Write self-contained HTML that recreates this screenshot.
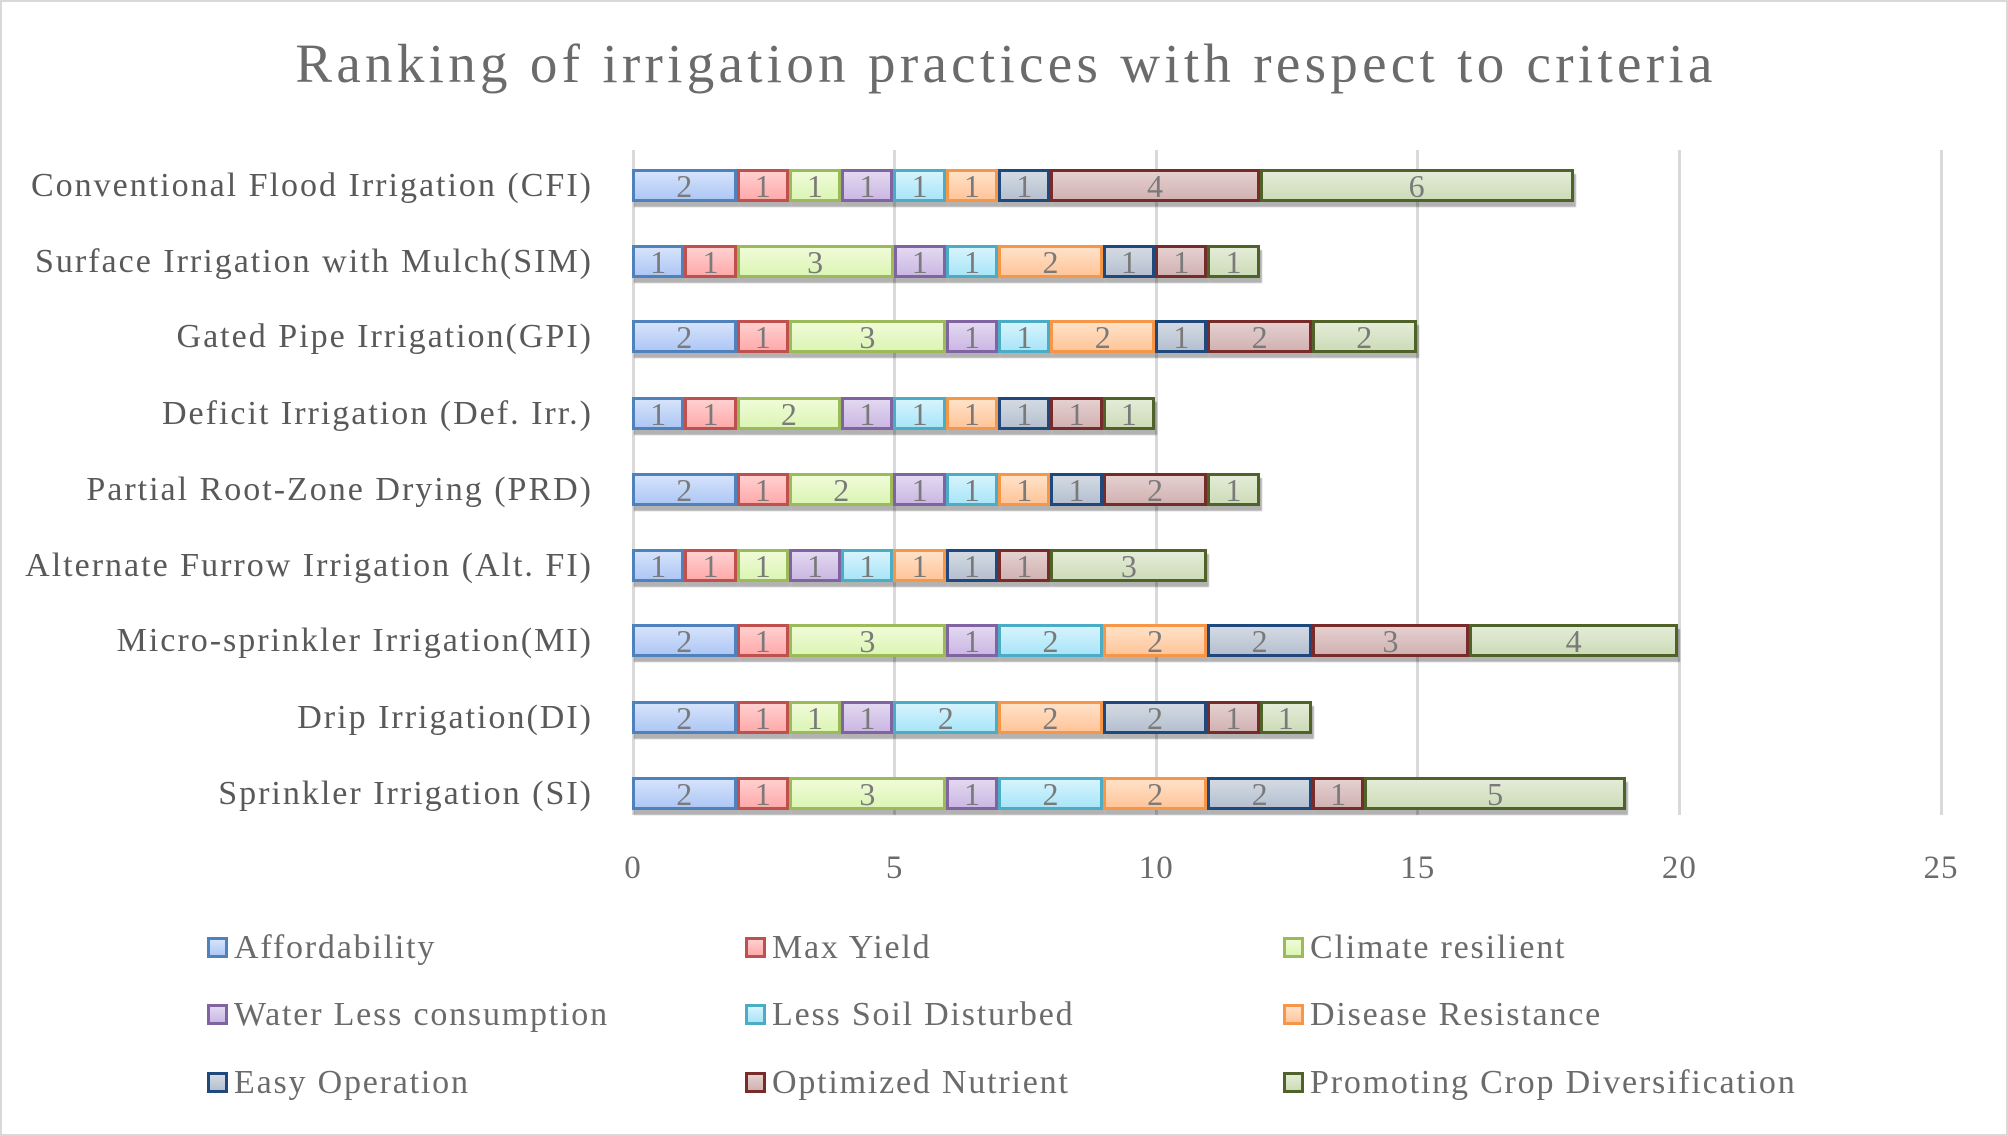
<!DOCTYPE html>
<html><head><meta charset="utf-8"><style>
body{margin:0;}
#c{position:relative;width:2008px;height:1136px;background:#fff;overflow:hidden;font-family:"Liberation Serif",serif;color:#6b6b6b;box-sizing:border-box;border:2px solid #d9d9d9;}
.t{position:absolute;left:0;width:2008px;top:30px;text-align:center;font-size:55px;letter-spacing:4.3px;color:#6b6b6b;}
.g{position:absolute;top:148px;height:665px;width:3px;background:#d9d9d9;}
.lab{position:absolute;right:1413px;font-size:34px;letter-spacing:2px;white-space:nowrap;line-height:40px;color:#595959;}
.bar{position:absolute;left:630px;height:33px;display:flex;}
.bar div{box-sizing:border-box;height:33px;border:3px solid;text-align:center;font-size:32px;line-height:28px;color:#7a7a7a;box-shadow:2px 5px 1px rgba(0,0,0,.3);}
.c0{border-color:#4f81bd!important;background:linear-gradient(#d6e3fb,#aec8f5);}
.c1{border-color:#c0504d!important;background:linear-gradient(#ffd0d0,#ffaaaa);}
.c2{border-color:#9bbb59!important;background:linear-gradient(#f0fbd8,#dcf5b5);}
.c3{border-color:#8064a2!important;background:linear-gradient(#e3d8f0,#cbb8e4);}
.c4{border-color:#4bacc6!important;background:linear-gradient(#d6f4fd,#a9e5f8);}
.c5{border-color:#f79646!important;background:linear-gradient(#ffe2c8,#ffc59a);}
.c6{border-color:#1f497d!important;background:linear-gradient(#d4dae3,#b5c0d0);}
.c7{border-color:#772c2a!important;background:linear-gradient(#e5d0d0,#d2b2b2);}
.c8{border-color:#4f6228!important;background:linear-gradient(#e4ecd8,#cddcb8);}
.tk{position:absolute;top:848px;font-size:33px;letter-spacing:1px;width:80px;margin-left:-40px;text-align:center;}
.lg{position:absolute;font-size:34px;letter-spacing:1.8px;white-space:nowrap;line-height:36px;}
.lg i{display:inline-block;width:15px;height:15px;border:3px solid;margin-right:6px;vertical-align:0px;}
</style></head><body><div id="c">
<div class="t">Ranking of irrigation practices with respect to criteria</div>
<div class="g" style="left:630px"></div><div class="g" style="left:891px"></div><div class="g" style="left:1153px"></div><div class="g" style="left:1414px"></div><div class="g" style="left:1676px"></div><div class="g" style="left:1938px"></div>

<div class="lab" style="top:164px">Conventional Flood Irrigation (CFI)</div>
<div class="lab" style="top:240px">Surface Irrigation with Mulch(SIM)</div>
<div class="lab" style="top:315px">Gated Pipe Irrigation(GPI)</div>
<div class="lab" style="top:392px">Deficit Irrigation (Def. Irr.)</div>
<div class="lab" style="top:468px">Partial Root-Zone Drying (PRD)</div>
<div class="lab" style="top:544px">Alternate Furrow Irrigation (Alt. FI)</div>
<div class="lab" style="top:619px">Micro-sprinkler Irrigation(MI)</div>
<div class="lab" style="top:696px">Drip Irrigation(DI)</div>
<div class="lab" style="top:772px">Sprinkler Irrigation (SI)</div>

<div class="bar" style="top:167px"><div class="c0" style="width:104.6px">2</div><div class="c1" style="width:52.3px">1</div><div class="c2" style="width:52.3px">1</div><div class="c3" style="width:52.3px">1</div><div class="c4" style="width:52.3px">1</div><div class="c5" style="width:52.3px">1</div><div class="c6" style="width:52.3px">1</div><div class="c7" style="width:209.3px">4</div><div class="c8" style="width:313.9px">6</div></div>
<div class="bar" style="top:243px"><div class="c0" style="width:52.3px">1</div><div class="c1" style="width:52.3px">1</div><div class="c2" style="width:157px">3</div><div class="c3" style="width:52.3px">1</div><div class="c4" style="width:52.3px">1</div><div class="c5" style="width:104.6px">2</div><div class="c6" style="width:52.3px">1</div><div class="c7" style="width:52.3px">1</div><div class="c8" style="width:52.3px">1</div></div>
<div class="bar" style="top:318px"><div class="c0" style="width:104.6px">2</div><div class="c1" style="width:52.3px">1</div><div class="c2" style="width:157px">3</div><div class="c3" style="width:52.3px">1</div><div class="c4" style="width:52.3px">1</div><div class="c5" style="width:104.6px">2</div><div class="c6" style="width:52.3px">1</div><div class="c7" style="width:104.6px">2</div><div class="c8" style="width:104.6px">2</div></div>
<div class="bar" style="top:395px"><div class="c0" style="width:52.3px">1</div><div class="c1" style="width:52.3px">1</div><div class="c2" style="width:104.6px">2</div><div class="c3" style="width:52.3px">1</div><div class="c4" style="width:52.3px">1</div><div class="c5" style="width:52.3px">1</div><div class="c6" style="width:52.3px">1</div><div class="c7" style="width:52.3px">1</div><div class="c8" style="width:52.3px">1</div></div>
<div class="bar" style="top:471px"><div class="c0" style="width:104.6px">2</div><div class="c1" style="width:52.3px">1</div><div class="c2" style="width:104.6px">2</div><div class="c3" style="width:52.3px">1</div><div class="c4" style="width:52.3px">1</div><div class="c5" style="width:52.3px">1</div><div class="c6" style="width:52.3px">1</div><div class="c7" style="width:104.6px">2</div><div class="c8" style="width:52.3px">1</div></div>
<div class="bar" style="top:547px"><div class="c0" style="width:52.3px">1</div><div class="c1" style="width:52.3px">1</div><div class="c2" style="width:52.3px">1</div><div class="c3" style="width:52.3px">1</div><div class="c4" style="width:52.3px">1</div><div class="c5" style="width:52.3px">1</div><div class="c6" style="width:52.3px">1</div><div class="c7" style="width:52.3px">1</div><div class="c8" style="width:157px">3</div></div>
<div class="bar" style="top:622px"><div class="c0" style="width:104.6px">2</div><div class="c1" style="width:52.3px">1</div><div class="c2" style="width:157px">3</div><div class="c3" style="width:52.3px">1</div><div class="c4" style="width:104.6px">2</div><div class="c5" style="width:104.6px">2</div><div class="c6" style="width:104.6px">2</div><div class="c7" style="width:157px">3</div><div class="c8" style="width:209.3px">4</div></div>
<div class="bar" style="top:699px"><div class="c0" style="width:104.6px">2</div><div class="c1" style="width:52.3px">1</div><div class="c2" style="width:52.3px">1</div><div class="c3" style="width:52.3px">1</div><div class="c4" style="width:104.6px">2</div><div class="c5" style="width:104.6px">2</div><div class="c6" style="width:104.6px">2</div><div class="c7" style="width:52.3px">1</div><div class="c8" style="width:52.3px">1</div></div>
<div class="bar" style="top:775px"><div class="c0" style="width:104.6px">2</div><div class="c1" style="width:52.3px">1</div><div class="c2" style="width:157px">3</div><div class="c3" style="width:52.3px">1</div><div class="c4" style="width:104.6px">2</div><div class="c5" style="width:104.6px">2</div><div class="c6" style="width:104.6px">2</div><div class="c7" style="width:52.3px">1</div><div class="c8" style="width:261.6px">5</div></div>

<div class="tk" style="left:631px">0</div><div class="tk" style="left:892.6px">5</div><div class="tk" style="left:1154.2px">10</div><div class="tk" style="left:1415.8px">15</div><div class="tk" style="left:1677.4px">20</div><div class="tk" style="left:1939px">25</div>

<div class="lg" style="left:205px;top:928px"><i class="c0"></i>Affordability</div>
<div class="lg" style="left:743px;top:928px"><i class="c1"></i>Max Yield</div>
<div class="lg" style="left:1281px;top:928px"><i class="c2"></i>Climate resilient</div>
<div class="lg" style="left:205px;top:995px"><i class="c3"></i>Water Less consumption</div>
<div class="lg" style="left:743px;top:995px"><i class="c4"></i>Less Soil Disturbed</div>
<div class="lg" style="left:1281px;top:995px"><i class="c5"></i>Disease Resistance</div>
<div class="lg" style="left:205px;top:1063px"><i class="c6"></i>Easy Operation</div>
<div class="lg" style="left:743px;top:1063px"><i class="c7"></i>Optimized Nutrient</div>
<div class="lg" style="left:1281px;top:1063px"><i class="c8"></i>Promoting Crop Diversification</div>
</div></body></html>
